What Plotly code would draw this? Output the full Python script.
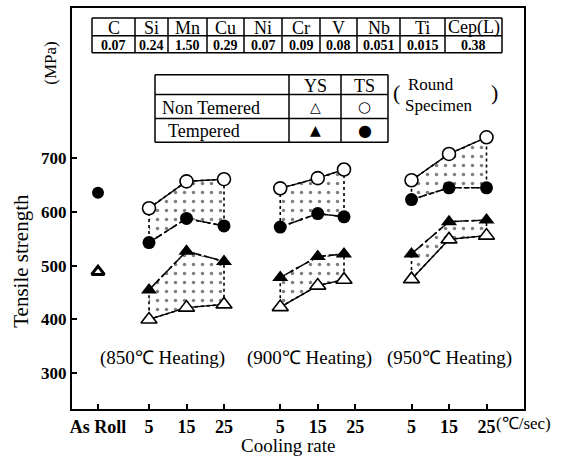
import plotly.graph_objects as go

# ---------------- data ----------------
elements = ["C", "Si", "Mn", "Cu", "Ni", "Cr", "V", "Nb", "Ti", "Cep(L)"]
contents = ["0.07", "0.24", "1.50", "0.29", "0.07", "0.09", "0.08", "0.051", "0.015", "0.38"]

heat_labels = ["(850℃ Heating)", "(900℃ Heating)", "(950℃ Heating)"]
rates_850 = [5, 15, 25]
rates_900 = [5, 15, 22]
rates_950 = [5, 15, 25]
tick_rates = [5, 15, 25]

asroll_ts = 636
asroll_ys = 489

# Non tempered / tempered, tensile strength (TS) and yield strength (YS), MPa
nt_ts_850 = [607, 657, 661]
t_ts_850 = [543, 588, 574]
nt_ys_850 = [400, 422, 428]
t_ys_850 = [455, 527, 508]

nt_ts_900 = [644, 663, 679]
t_ts_900 = [572, 597, 591]
nt_ys_900 = [423, 463, 474]
t_ys_900 = [478, 517, 522]

nt_ts_950 = [659, 708, 739]
t_ts_950 = [623, 645, 645]
nt_ys_950 = [475, 549, 556]
t_ys_950 = [522, 582, 585]

y_ticks = [300, 400, 500, 600, 700]

# ---------------- layout helpers ----------------
W, H = 575, 457
L, R, T, B = 72, 524, 6, 409
group_offset = [0, 35, 70]
asroll_x = -8.6
FONT = "Liberation Serif"


def px(x):
    return (x - L) / (R - L)


def py(y):
    return (B - y) / (B - T)


groups = [
    (rates_850, nt_ts_850, t_ts_850, nt_ys_850, t_ys_850),
    (rates_900, nt_ts_900, t_ts_900, nt_ys_900, t_ys_900),
    (rates_950, nt_ts_950, t_ts_950, nt_ys_950, t_ys_950),
]

fig = go.Figure()

dot_line = dict(color="black", width=1.6, dash="dot")
pattern = dict(shape=".", size=9, solidity=0.12, fgcolor="black",
               bgcolor="rgba(0,0,0,0)")

for g, (rates, nt_ts, t_ts, nt_ys, t_ys) in enumerate(groups):
    xs = [group_offset[g] + r for r in rates]
    # stippled bands
    for up, lo in ((nt_ts, t_ts), (t_ys, nt_ys)):
        fig.add_trace(go.Scatter(
            x=xs + xs[::-1] + [xs[0]], y=up + lo[::-1] + [up[0]],
            mode="lines", fill="toself", fillpattern=pattern,
            fillcolor="rgba(0,0,0,0)", line=dot_line,
            hoverinfo="skip", showlegend=False))
    # tempered (dashed, filled markers)
    fig.add_trace(go.Scatter(
        x=xs, y=t_ts, mode="lines+markers",
        line=dict(color="black", width=1.6, dash="6px,3px"),
        marker=dict(symbol="circle", size=13, color="black"),
        showlegend=False))
    fig.add_trace(go.Scatter(
        x=xs, y=t_ys, mode="lines+markers",
        line=dict(color="black", width=1.6, dash="6px,3px"),
        marker=dict(symbol="triangle-up", size=14, color="black"),
        showlegend=False))
    # non tempered (solid, open markers)
    fig.add_trace(go.Scatter(
        x=xs, y=nt_ts, mode="lines+markers",
        line=dict(color="black", width=1.4),
        marker=dict(symbol="circle", size=13, color="white",
                    line=dict(color="black", width=1.6)),
        showlegend=False))
    fig.add_trace(go.Scatter(
        x=xs, y=nt_ys, mode="lines+markers",
        line=dict(color="black", width=1.4),
        marker=dict(symbol="triangle-up", size=14, color="white",
                    line=dict(color="black", width=1.6)),
        showlegend=False))

# as rolled
fig.add_trace(go.Scatter(
    x=[asroll_x], y=[asroll_ts], mode="markers",
    marker=dict(symbol="circle", size=12, color="black"), showlegend=False))
fig.add_trace(go.Scatter(
    x=[asroll_x], y=[asroll_ys], mode="markers",
    marker=dict(symbol="triangle-up", size=11, color="white",
                line=dict(color="black", width=3)), showlegend=False))

tickvals = [asroll_x] + [o + r for o in group_offset for r in tick_rates]
ticktext = ["As Roll"] + [str(r) for _ in group_offset for r in tick_rates]

fig.update_xaxes(range=[5 - (149 - L) / 3.75, 5 + (R - 149) / 3.75],
                 tickvals=tickvals, ticktext=ticktext,
                 ticks="inside", ticklen=5, tickwidth=1.5, tickcolor="black",
                 showline=True, linecolor="black", linewidth=2, mirror=True,
                 showgrid=False, zeroline=False,
                 tickfont=dict(family=FONT, size=18, color="black", weight="bold"))
fig.update_yaxes(range=[700 - (B - 157) / 0.54, 700 + (157 - T) / 0.54],
                 tickvals=y_ticks, ticks="inside", ticklen=5, tickwidth=1.5,
                 tickcolor="black", showline=True, linecolor="black",
                 linewidth=2, mirror=True, showgrid=False, zeroline=False,
                 tickfont=dict(family=FONT, size=17, color="black", weight="bold"))

shapes = []
ann = []


def line(x0, y0, x1, y1, w=1.5):
    shapes.append(dict(type="line", xref="paper", yref="paper",
                       x0=px(x0), y0=py(y0), x1=px(x1), y1=py(y1),
                       line=dict(color="black", width=w)))


def text(x, y, s, size=16, xanchor="center", bold=False, family=FONT, angle=0):
    ann.append(dict(x=px(x), y=py(y), xref="paper", yref="paper", text=s,
                    showarrow=False, xanchor=xanchor, yanchor="middle",
                    textangle=angle,
                    font=dict(family=family, size=size, color="black",
                              weight="bold" if bold else "normal")))


# composition table
cols = [92, 135, 168, 207, 244, 282, 320, 357, 400, 445, 502]
rows = [16, 34, 51]
for y in rows:
    line(cols[0], y, cols[-1], y)
for x in cols:
    line(x, rows[0], x, rows[-1])
for i, (el, v) in enumerate(zip(elements, contents)):
    cx = (cols[i] + cols[i + 1]) / 2
    text(cx, (rows[0] + rows[1]) / 2 + 1, el, size=18)
    text(cx, (rows[1] + rows[2]) / 2 + 1, v, size=14, bold=True)

# legend table
lcols = [155, 289, 341, 388]
lrows = [73, 93, 117, 141]
for y in lrows:
    line(lcols[0], y, lcols[-1], y)
for x in lcols:
    line(x, lrows[0], x, lrows[-1])
text((lcols[1] + lcols[2]) / 2, (lrows[0] + lrows[1]) / 2 + 1, "YS", size=18)
text((lcols[2] + lcols[3]) / 2, (lrows[0] + lrows[1]) / 2 + 1, "TS", size=18)
text(lcols[0] + 5, (lrows[1] + lrows[2]) / 2 + 1, "Non Temered", size=18, xanchor="left")
text(lcols[0] + 11, (lrows[2] + lrows[3]) / 2 + 1, "Tempered", size=18, xanchor="left")
text((lcols[1] + lcols[2]) / 2, (lrows[1] + lrows[2]) / 2, "△", size=14, family="DejaVu Sans")
text((lcols[2] + lcols[3]) / 2, (lrows[1] + lrows[2]) / 2, "○", size=15, family="DejaVu Sans")
text((lcols[1] + lcols[2]) / 2, (lrows[2] + lrows[3]) / 2, "▲", size=14, family="DejaVu Sans")
text((lcols[2] + lcols[3]) / 2, (lrows[2] + lrows[3]) / 2, "●", size=16, family="DejaVu Sans")

# round specimen note
text(396, 91, "(", size=22)
text(494, 91, ")", size=22)
text(406, 83, "Round", size=17, xanchor="left")
text(403, 104, "Specimen", size=17, xanchor="left")

# heating labels
for cx, s in zip([162, 309, 449], heat_labels):
    text(cx, 358, s, size=19)

# axis titles
text(21, 260, "Tensile strength", size=21, angle=-90)
text(51, 62, "(MPa)", size=17, angle=-90)
text(288, 446, "Cooling rate", size=19)
text(494, 424, "(℃/sec)", size=17, xanchor="left")

fig.update_layout(width=W, height=H,
                  margin=dict(l=L, r=W - R, t=T, b=H - B),
                  paper_bgcolor="white", plot_bgcolor="white",
                  shapes=shapes, annotations=ann, showlegend=False)

fig.write_html("out.html", config={"displayModeBar": False},
               post_script="document.body.style.margin='0';"
                           "document.body.style.overflow='hidden';")
